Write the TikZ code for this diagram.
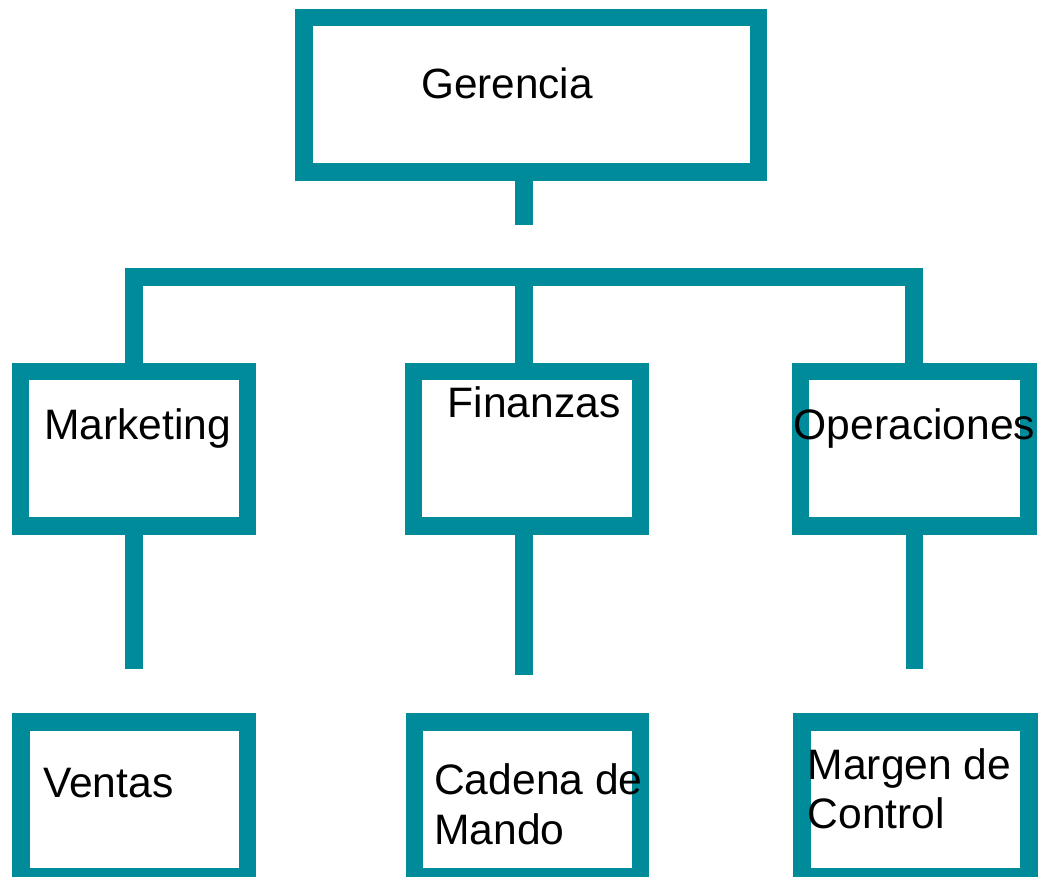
\documentclass[tikz,border=0pt]{standalone}
\usepackage{fontspec}
\setmainfont{Liberation Sans}
\definecolor{teal1}{RGB}{0,139,155}
\tikzset{
  orgbox/.style={draw=teal1, line width=17.5pt, rectangle, inner sep=0pt, fill=white},
  conn/.style={draw=teal1, line width=17.5pt, line join=miter, line cap=butt},
  lbl/.style={anchor=base west, inner sep=0pt, font=\fontsize{42.6pt}{50pt}\selectfont},
}
\begin{document}
\begin{tikzpicture}[x=1pt,y=-1pt]
\useasboundingbox (0,0) rectangle (1038,877);
\clip (0,0) rectangle (1038,877);
% boxes
\node[orgbox, minimum width=454.5pt, minimum height=154.5pt] (ger) at (531.25,94.75) {};
\node[orgbox, minimum width=227pt, minimum height=154.5pt] (mkt) at (134,448.75) {};
\node[orgbox, minimum width=227pt, minimum height=154.5pt] (fin) at (527,448.75) {};
\node[orgbox, minimum width=228pt, minimum height=154.5pt] (ope) at (914.5,448.75) {};
\node[orgbox, minimum width=226.5pt, minimum height=155pt] (ven) at (134.25,799.5) {};
\node[orgbox, minimum width=226pt, minimum height=155pt] (cad) at (527.5,799.5) {};
\node[orgbox, minimum width=227pt, minimum height=155pt] (mar) at (915.5,799.5) {};
% free ends
\coordinate (gstem) at (524,225);
\coordinate (mstem) at (134,669);
\coordinate (fstem) at (524,675);
\coordinate (ostem) at (914.5,669);
\coordinate (busl) at (134,277);
\coordinate (busm) at (524,277);
\coordinate (busr) at (914,277);
% connectors
\draw[conn] (gstem |- ger.south) -- (gstem);
\draw[conn] (busl |- mkt.north) -- (busl) -- (busr) -- (busr |- ope.north);
\draw[conn] (busm) -- (busm |- fin.north);
\draw[conn] (mstem |- mkt.south) -- (mstem);
\draw[conn] (fstem |- fin.south) -- (fstem);
\draw[conn] (ostem |- ope.south) -- (ostem);
% labels
\node[lbl, font=\fontsize{42.3pt}{50pt}\selectfont] (tger) at (421,99) {Gerencia};
\node[lbl] (tmkt) at (44,439) {Marketing};
\node[lbl] (tfin) at (447.5,417) {Finanzas};
\node[lbl] (tope) at (793.5,439) {Operaciones};
\node[lbl] (tven) at (43,797) {Ventas};
\node[lbl] (tcad1) at (434,794) {Cadena de};
\node[lbl] (tcad2) at (434,844) {Mando};
\node[lbl] (tmar1) at (807.5,779) {Margen de};
\node[lbl] (tmar2) at (807.5,828) {Control};
\end{tikzpicture}
\end{document}
